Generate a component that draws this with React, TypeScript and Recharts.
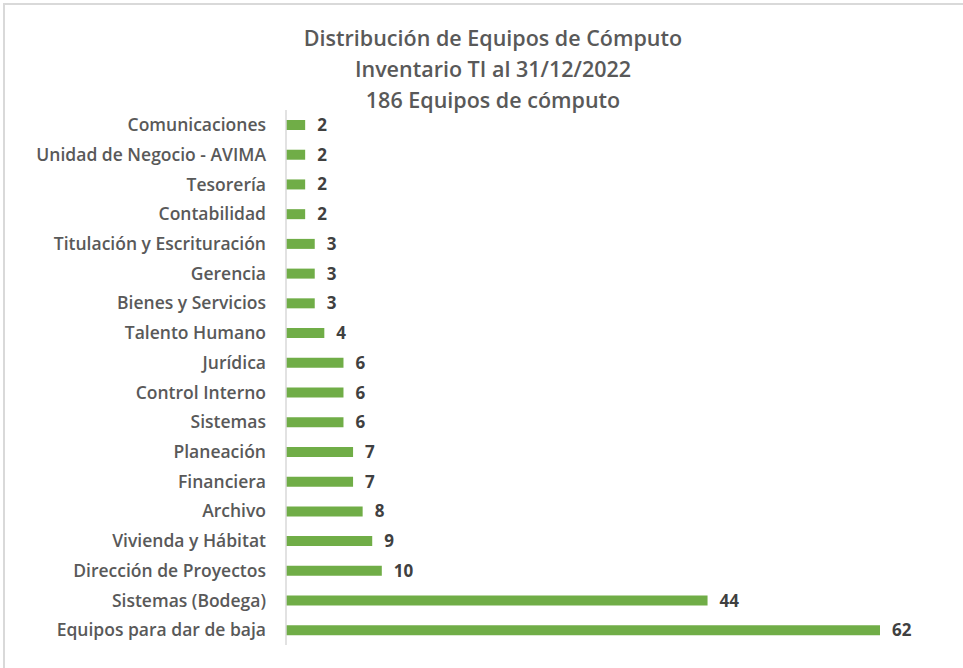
import { BarChart, Bar, XAxis, YAxis, LabelList } from 'recharts';

const areas = [
  'Comunicaciones',
  'Unidad de Negocio - AVIMA',
  'Tesorería',
  'Contabilidad',
  'Titulación y Escrituración',
  'Gerencia',
  'Bienes y Servicios',
  'Talento Humano',
  'Jurídica',
  'Control Interno',
  'Sistemas',
  'Planeación',
  'Financiera',
  'Archivo',
  'Vivienda y Hábitat',
  'Dirección de Proyectos',
  'Sistemas (Bodega)',
  'Equipos para dar de baja',
];

const equipos = [2, 2, 2, 2, 3, 3, 3, 4, 6, 6, 6, 7, 7, 8, 9, 10, 44, 62];

const titleLines = [
  'Distribución de Equipos de Cómputo',
  'Inventario TI al 31/12/2022',
  '186 Equipos de cómputo',
];

const data = areas.map((area, i) => ({ area, equipos: equipos[i] }));

const font = '"Open Sans", Lato, sans-serif';

export default function App() {
  return (
    <div
      style={{
        position: 'absolute',
        left: 0,
        top: 0,
        width: 963,
        height: 668,
        background: '#fff',
        overflow: 'hidden',
        fontFamily: font,
      }}
    >
      {/* frame edges visible in the crop */}
      <div style={{ position: 'absolute', left: 4, top: 3, right: 0, height: 2, background: '#d9d9d9' }} />
      <div style={{ position: 'absolute', left: 3, top: 3, bottom: 0, width: 2, background: '#d9d9d9' }} />

      <div
        style={{
          position: 'absolute',
          top: 22,
          left: 0,
          width: 986,
          textAlign: 'center',
          color: '#595959',
          fontSize: 21.5,
          fontWeight: 600,
          lineHeight: '31px',
        }}
      >
        {titleLines.map((t) => (
          <div key={t}>{t}</div>
        ))}
      </div>

      <div style={{ position: 'absolute', left: 0, top: 0 }}>
        <BarChart
          width={963}
          height={668}
          data={data}
          layout="vertical"
          margin={{ top: 110, right: 83, bottom: 23, left: 0 }}
          barSize={10}
        >
          <XAxis type="number" domain={[0, 'dataMax']} hide />
          <YAxis
            type="category"
            dataKey="area"
            width={286}
            axisLine={{ stroke: '#d9d9d9', strokeWidth: 1.5 }}
            tickLine={false}
            tickMargin={14}
            interval={0}
            tick={{ fill: '#595959', fontSize: 17.5, fontWeight: 600, fontFamily: font }}
          />
          <Bar dataKey="equipos" fill="#70ad47" isAnimationActive={false}>
            <LabelList
              dataKey="equipos"
              position="right"
              offset={12}
              fill="#404040"
              fontSize={17}
              fontWeight={700}
              fontFamily={font}
            />
          </Bar>
        </BarChart>
      </div>
    </div>
  );
}
